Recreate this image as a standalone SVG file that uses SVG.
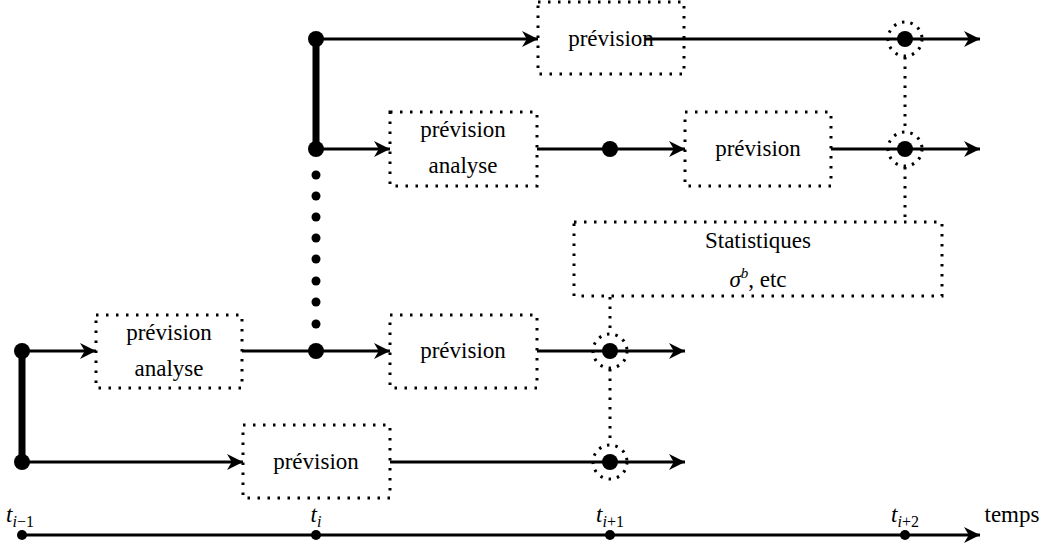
<svg xmlns="http://www.w3.org/2000/svg" width="1045" height="544" viewBox="0 0 1045 544">
<style>
text{font-family:"Liberation Serif","DejaVu Serif",serif;font-size:23px;fill:#000;text-anchor:middle}
.box{fill:none;stroke:#000;stroke-width:3;stroke-dasharray:2.5 7.5}
.ar{stroke:#000;stroke-width:3;fill:none;marker-end:url(#a2)}
.dc{fill:none;stroke:#000;stroke-width:3;stroke-dasharray:2.5 6}
.dl{stroke:#000;stroke-width:3;stroke-dasharray:2.5 7}
</style>
<defs>
<marker id="a2" viewBox="0 0 10 10" refX="10" refY="5" markerWidth="18" markerHeight="16" orient="auto" markerUnits="userSpaceOnUse"><path d="M0,0 L10,5 L0,10 L3,5 Z"/></marker></defs>
<g id="n1"><rect class="box" x="538" y="2" width="146" height="72"/><text x="611" y="46">prévision</text></g>
<g id="n2"><rect class="box" x="390" y="112" width="147" height="74"/><text x="463" y="137">prévision</text><text x="463" y="173">analyse</text></g>
<g id="n3"><rect class="box" x="685" y="112" width="146" height="74"/><text x="758" y="156">prévision</text></g>
<g id="n4"><rect class="box" x="574" y="222" width="368" height="74"/><text x="758" y="248">Statistiques</text><text x="758" y="287"><tspan font-style="italic">σ</tspan><tspan font-size="15" font-style="italic" dy="-9">b</tspan><tspan dy="9">, etc</tspan></text></g>
<g id="n5"><rect class="box" x="96" y="315" width="146" height="73"/><text x="169" y="340">prévision</text><text x="169" y="376">analyse</text></g>
<g id="n6"><rect class="box" x="390" y="315" width="147" height="73"/><text x="463" y="358">prévision</text></g>
<g id="n7"><rect class="box" x="243" y="425" width="147" height="73"/><text x="316" y="469">prévision</text></g>
<g id="connectors">
<path class="ar" d="M316,39 H538"/>
<path class="ar" d="M645,39 H980"/>
<path class="ar" d="M316,149 H390"/>
<path class="ar" d="M537,149 H685"/>
<path class="ar" d="M831,149 H980"/>
<path class="ar" d="M22,351 H96"/>
<path class="ar" d="M242,351 H390"/>
<path class="ar" d="M537,351 H685"/>
<path class="ar" d="M22,462 H243"/>
<path class="ar" d="M390,462 H685"/>
<path class="ar" d="M22,535 H980"/>
<path d="M22,351 V462 M316,39 V149" stroke="#000" stroke-width="7"/>
<path class="dl" d="M905,57 V132 M905,167 V222 M610,297 V333 M610,369 V444"/>
<circle class="dc" cx="905" cy="39" r="17"/><circle class="dc" cx="905" cy="149" r="17"/>
<circle class="dc" cx="610" cy="351" r="17"/><circle class="dc" cx="610" cy="462" r="17"/>
<g fill="#000">
<circle cx="22" cy="351" r="8"/><circle cx="22" cy="462" r="8"/>
<circle cx="316" cy="39" r="8"/><circle cx="316" cy="149" r="8"/><circle cx="316" cy="351" r="8"/>
<circle cx="610" cy="149" r="8"/><circle cx="610" cy="351" r="8"/><circle cx="610" cy="462" r="8"/>
<circle cx="905" cy="39" r="8"/><circle cx="905" cy="149" r="8"/>
<circle cx="316" cy="175" r="4.5"/><circle cx="316" cy="196" r="4.5"/><circle cx="316" cy="217" r="4.5"/><circle cx="316" cy="238" r="4.5"/><circle cx="316" cy="259" r="4.5"/><circle cx="316" cy="281" r="4.5"/><circle cx="316" cy="302" r="4.5"/><circle cx="316" cy="324" r="4.5"/>
<circle cx="22" cy="535" r="5"/><circle cx="316" cy="535" r="5"/><circle cx="610" cy="535" r="5"/><circle cx="905" cy="535" r="5"/>
</g>
</g>
<g id="labels">
<text x="20" y="522"><tspan font-style="italic">t</tspan><tspan font-size="16" dy="5"><tspan font-style="italic">i</tspan>−1</tspan></text>
<text x="316" y="522"><tspan font-style="italic">t</tspan><tspan font-size="16" dy="5" font-style="italic">i</tspan></text>
<text x="610" y="522"><tspan font-style="italic">t</tspan><tspan font-size="16" dy="5"><tspan font-style="italic">i</tspan>+1</tspan></text>
<text x="905" y="522"><tspan font-style="italic">t</tspan><tspan font-size="16" dy="5"><tspan font-style="italic">i</tspan>+2</tspan></text>
<text x="1012" y="522">temps</text>
</g>
</svg>
